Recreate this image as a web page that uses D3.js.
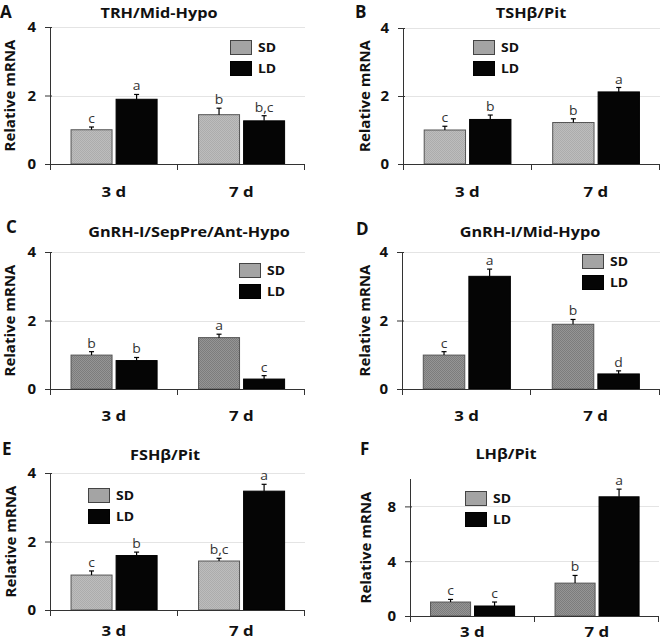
<!DOCTYPE html>
<html>
<head>
<meta charset="utf-8">
<script src="https://cdn.jsdelivr.net/npm/d3@7"></script>
<style>
  html, body { margin: 0; padding: 0; background: #fff; }
  svg { display: block; }
  text { font-family: "Open Sans", "DejaVu Sans", sans-serif; }
</style>
</head>
<body>
<svg id="chart" width="660" height="643"></svg>
<script>
// ---------------- data ----------------
const categories = ["3 d", "7 d"];
const series = ["SD", "LD"];
const panelLetters = ["A", "B", "C", "D", "E", "F"];
const panelTitles = ["TRH/Mid-Hypo", "TSHβ/Pit", "GnRH-I/SepPre/Ant-Hypo", "GnRH-I/Mid-Hypo", "FSHβ/Pit", "LHβ/Pit"];
const yLabel = "Relative mRNA";
const sdMeans  = [[1.00, 1.44], [1.00, 1.22], [0.99, 1.50], [0.99, 1.89], [1.02, 1.43], [1.02, 2.40]];
const sdErrors = [[0.08, 0.19], [0.11, 0.11], [0.10, 0.10], [0.10, 0.14], [0.12, 0.08], [0.19, 0.56]];
const ldMeans  = [[1.89, 1.26], [1.31, 2.12], [0.83, 0.29], [3.29, 0.44], [1.59, 3.47], [0.73, 8.70]];
const ldErrors = [[0.14, 0.15], [0.13, 0.13], [0.09, 0.10], [0.21, 0.09], [0.10, 0.20], [0.29, 0.56]];
const sdLetters = [["c", "b"], ["c", "b"], ["b", "a"], ["c", "b"], ["c", "b,c"], ["c", "b"]];
const ldLetters = [["a", "b,c"], ["b", "a"], ["b", "c"], ["a", "d"], ["b", "a"], ["c", "a"]];
const yMax = [4, 4, 4, 4, 4, 10];
const yTicks = [[0, 2, 4], [0, 2, 4], [0, 2, 4], [0, 2, 4], [0, 2, 4], [0, 4, 8]];

// ---------------- layout (positions / styles) ----------------
const layout = [
  { x0: 50,  x1: 305, yTop: 27,  yBot: 164, legX: 230, legY: 40,  titleX: 159, titleY: 18,  letX: 0,   letY: 18,  catY: 197, labX: 9,   shade: "light" },
  { x0: 403, x1: 660, yTop: 28,  yBot: 164, legX: 473, legY: 40,  titleX: 531, titleY: 18,  letX: 355, letY: 18,  catY: 197, labX: 364, shade: "light" },
  { x0: 50,  x1: 305, yTop: 252, yBot: 389, legX: 239, legY: 263, titleX: 189, titleY: 237, letX: 6,   letY: 233, catY: 421, labX: 9,   shade: "dark" },
  { x0: 402, x1: 660, yTop: 252, yBot: 389, legX: 582, legY: 254, titleX: 530, titleY: 237, letX: 356, letY: 235, catY: 421, labX: 364, shade: "dark" },
  { x0: 50,  x1: 305, yTop: 473, yBot: 610, legX: 88,  legY: 488, titleX: 165, titleY: 460, letX: 2,   letY: 455, catY: 636, labX: 10,  shade: "light" },
  { x0: 410, x1: 659, yTop: 479, yBot: 616, legX: 465, legY: 491, titleX: 506, titleY: 459, letX: 360, letY: 455, catY: 637, labX: 365, shade: "dark" }
];
const SX = 1.16; // horizontal stretch of text, as in the reference image
const axisColor = "#333";

const svg = d3.select("#chart");
const defs = svg.append("defs");
function makePattern(id, base, dot) {
  const p = defs.append("pattern").attr("id", id).attr("width", 2).attr("height", 2)
    .attr("patternUnits", "userSpaceOnUse");
  p.append("rect").attr("width", 2).attr("height", 2).attr("fill", base);
  p.append("rect").attr("x", 0).attr("y", 0).attr("width", 1).attr("height", 1).attr("fill", dot);
  p.append("rect").attr("x", 1).attr("y", 1).attr("width", 1).attr("height", 1).attr("fill", dot);
}
makePattern("sd-light", "#bdbdbd", "#acacac");
makePattern("sd-dark", "#959595", "#7c7c7c");

function hText(parent, x, y, str, size, weight, anchor, fill) {
  return parent.append("g").attr("transform", `translate(${x},${y}) scale(${SX},1)`)
    .append("text").attr("x", 0).attr("y", 0)
    .attr("text-anchor", anchor).attr("font-size", size).attr("font-weight", weight)
    .attr("fill", fill || "#111").text(str);
}

layout.forEach((L, i) => {
  const g = svg.append("g");
  const y = d3.scaleLinear().domain([0, yMax[i]]).range([L.yBot, L.yTop]);
  const x0 = d3.scaleBand().domain(categories).range([L.x0, L.x1]);
  const bw = x0.bandwidth();
  const x1 = d3.scaleBand().domain(series).range([bw * 0.165, bw * 0.84]).paddingInner(0.09);

  // gridlines
  g.selectAll("line.grid").data(yTicks[i].filter(t => t > 0)).join("line")
    .attr("x1", L.x0).attr("x2", L.x1)
    .attr("y1", d => Math.round(y(d)) + 0.5).attr("y2", d => Math.round(y(d)) + 0.5)
    .attr("stroke", "#e4e4e4").attr("stroke-width", 1);

  // bars
  const rows = [];
  categories.forEach((c, ci) => {
    rows.push({ cat: c, s: "SD", v: sdMeans[i][ci], e: sdErrors[i][ci], lab: sdLetters[i][ci] });
    rows.push({ cat: c, s: "LD", v: ldMeans[i][ci], e: ldErrors[i][ci], lab: ldLetters[i][ci] });
  });
  const sdFill = `url(#sd-${L.shade})`;
  g.selectAll("rect.bar").data(rows).join("rect")
    .attr("x", d => x0(d.cat) + x1(d.s))
    .attr("y", d => y(d.v))
    .attr("width", x1.bandwidth())
    .attr("height", d => y(0) - y(d.v))
    .attr("fill", d => d.s === "SD" ? sdFill : "#050505")
    .attr("stroke", d => d.s === "SD" ? "#555" : "#000")
    .attr("stroke-width", 1);

  // error bars (upper only)
  const cx = d => x0(d.cat) + x1(d.s) + x1.bandwidth() / 2;
  g.selectAll("line.err").data(rows).join("line")
    .attr("x1", cx).attr("x2", cx)
    .attr("y1", d => y(d.v)).attr("y2", d => y(d.v + d.e))
    .attr("stroke", "#000").attr("stroke-width", 1.2);
  g.selectAll("line.cap").data(rows).join("line")
    .attr("x1", d => cx(d) - 2.5).attr("x2", d => cx(d) + 2.5)
    .attr("y1", d => y(d.v + d.e)).attr("y2", d => y(d.v + d.e))
    .attr("stroke", "#000").attr("stroke-width", 1.2);
  rows.forEach(d => {
    hText(g, cx(d), y(d.v + d.e) - 4, d.lab, 12, "normal", "middle", "#333");
  });

  // y axis
  const ya = g.append("g").attr("transform", `translate(${L.x0},0)`)
    .call(d3.axisLeft(y).tickValues(yTicks[i]).tickSize(5).tickPadding(9).tickFormat(d3.format("d")));
  ya.select(".domain").remove();
  ya.selectAll(".tick line").attr("stroke", axisColor).attr("x2", 2).attr("x1", -5);
  ya.selectAll(".tick text").attr("font-size", 15).attr("font-weight", "bold").attr("fill", "#111")
    .attr("font-family", "'Open Sans', sans-serif");
  g.append("line").attr("x1", L.x0 + 0.5).attr("x2", L.x0 + 0.5)
    .attr("y1", L.yTop).attr("y2", L.yBot + 6).attr("stroke", axisColor);

  // x axis
  g.append("line").attr("x1", L.x0).attr("x2", L.x1)
    .attr("y1", L.yBot + 0.5).attr("y2", L.yBot + 0.5).attr("stroke", axisColor);
  const bounds = categories.map(c => x0(c)).concat([L.x1]);
  g.selectAll("line.xt").data(bounds.slice(1)).join("line")
    .attr("x1", d => Math.round(d) - 0.5).attr("x2", d => Math.round(d) - 0.5)
    .attr("y1", L.yBot).attr("y2", L.yBot + 6).attr("stroke", axisColor);
  categories.forEach(c => {
    hText(g, x0(c) + bw / 2, L.catY, c, 14.5, "bold", "middle");
  });

  // y label
  g.append("text")
    .attr("transform", `translate(${L.labX},${(L.yTop + L.yBot) / 2}) rotate(-90)`)
    .attr("text-anchor", "middle").attr("dominant-baseline", "central")
    .attr("font-size", 15).attr("font-weight", "bold").attr("fill", "#111").text(yLabel);

  // title and panel letter
  hText(g, L.titleX, L.titleY, panelTitles[i], 14, "bold", "middle");
  g.append("text").attr("x", L.letX).attr("y", L.letY).attr("font-size", 17)
    .attr("font-weight", "bold").attr("fill", "#111").text(panelLetters[i]);

  // legend
  series.forEach((s, si) => {
    const ly = L.legY + si * 21;
    g.append("rect").attr("x", L.legX + 0.5).attr("y", ly + 0.5).attr("width", 21).attr("height", 14)
      .attr("fill", s === "SD" ? "#a4a4a4" : "#050505").attr("stroke", s === "SD" ? "#444" : "#000");
    hText(g, L.legX + 28, ly + 12, s, 12, "bold", "start");
  });
});
</script>
</body>
</html>
